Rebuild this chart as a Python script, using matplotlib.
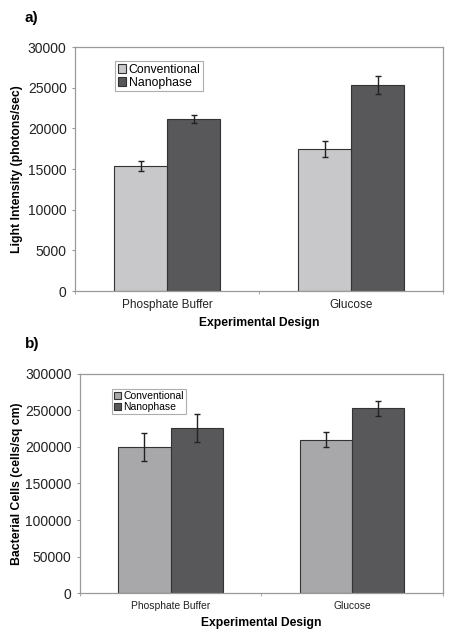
import numpy as np
import matplotlib.pyplot as plt
from matplotlib.ticker import FixedLocator

plt.rcParams["font.family"] = ["Liberation Sans", "DejaVu Sans"]

categories = ["Phosphate Buffer", "Glucose"]
series = ["Conventional", "Nanophase"]

# panel a: light intensity (photons/sec)
light_conv = [15400, 17500]
light_conv_err = [600, 1000]
light_nano = [21150, 25350]
light_nano_err = [500, 1050]

# panel b: bacterial cells (cells/sq cm)
cells_conv = [200000, 210000]
cells_conv_err = [19000, 10000]
cells_nano = [226000, 253000]
cells_nano_err = [19000, 10500]

EDGE = "#333333"
SPINE = "#9a9a9a"


def draw(ax, conv, conv_err, nano, nano_err, c_conv, ymax, ystep, ylabel,
         cat_size, leg_anchor, leg_size, ylab_x):
    x = np.arange(len(categories))
    w = 0.288
    ekw = dict(ecolor="#222222", elinewidth=1.0, capsize=2.5, capthick=1.0)
    ax.bar(x - w / 2, conv, w, yerr=conv_err, color=c_conv, edgecolor=EDGE,
           linewidth=0.8, label=series[0], error_kw=ekw, zorder=2)
    ax.bar(x + w / 2, nano, w, yerr=nano_err, color="#58585a", edgecolor=EDGE,
           linewidth=0.8, label=series[1], error_kw=ekw, zorder=2)
    ax.set_xlim(-0.5, 1.5)
    ax.set_ylim(0, ymax)
    ax.set_yticks(np.arange(0, ymax + 1, ystep))
    ax.set_xticks(x)
    ax.set_xticklabels(categories, fontsize=cat_size)
    ax.xaxis.set_minor_locator(FixedLocator([-0.5, 0.5, 1.5]))
    ax.tick_params(axis="x", which="major", length=0, pad=6, labelcolor="#222222")
    ax.tick_params(axis="x", which="minor", length=2.5, color=SPINE, direction="out")
    ax.tick_params(axis="y", length=2.5, color=SPINE, labelsize=10, labelcolor="#222222")
    for s in ax.spines.values():
        s.set_color(SPINE)
        s.set_linewidth(0.9)
    ax.set_ylabel(ylabel, fontsize=8.8, fontweight="bold")
    ax.yaxis.set_label_coords(ylab_x, 0.5)
    ax.set_xlabel("Experimental Design", fontsize=8.7, fontweight="bold", labelpad=4)
    leg = ax.legend(loc="upper left", bbox_to_anchor=leg_anchor, fontsize=leg_size,
                    frameon=True, fancybox=False, edgecolor=SPINE,
                    handlelength=0.7, handleheight=0.7, handletextpad=0.2,
                    borderpad=0.2, borderaxespad=0, labelspacing=0.1)
    leg.get_frame().set_linewidth(0.8)


fig = plt.figure(figsize=(4.49, 6.35), dpi=100)
ax1 = fig.add_axes([0.167, 0.5417, 0.820, 0.384])
ax2 = fig.add_axes([0.178, 0.0661, 0.808, 0.345])

draw(ax1, light_conv, light_conv_err, light_nano, light_nano_err, "#c8c8ca",
     30000, 5000, "Light Intensity (photons/sec)", 8.5, (0.109, 0.943), 8.8, -0.141)
draw(ax2, cells_conv, cells_conv_err, cells_nano, cells_nano_err, "#a8a8aa",
     300000, 50000, "Bacterial Cells (cells/sq cm)", 7.4, (0.088, 0.932), 7.5, -0.157)

fig.text(0.055, 0.972, "a)", fontsize=11, fontweight="bold", va="center")
fig.text(0.055, 0.459, "b)", fontsize=11, fontweight="bold", va="center")

fig.savefig("out.png", dpi=100)
